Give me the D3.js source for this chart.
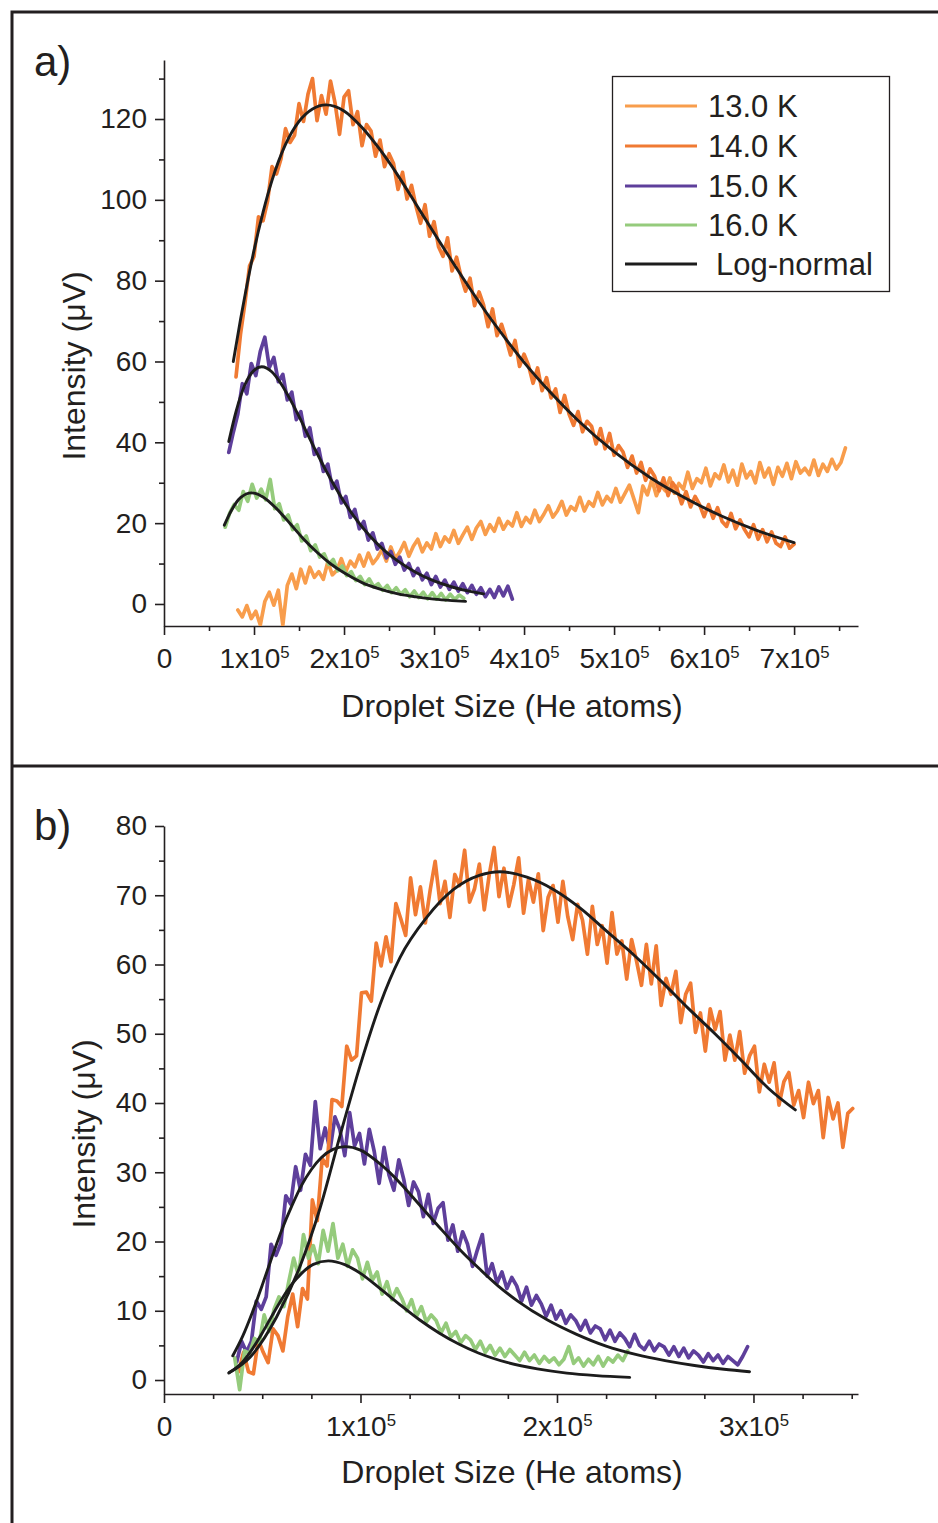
<!DOCTYPE html>
<html><head><meta charset="utf-8">
<script src="https://cdn.jsdelivr.net/npm/d3@7"></script>
<style>body{margin:0;background:#fff}svg{display:block;font-family:"Liberation Sans",Arial,sans-serif}</style>
</head><body><svg id="c" width="938" height="1523"></svg>
<script>
// ---------------- DATA ----------------
const legendLabels = ["13.0 K", "14.0 K", "15.0 K", "16.0 K", "Log-normal"];
const xLabel = "Droplet Size (He atoms)";
const yLabel = "Intensity (\u03BCV)";

// tick values (x in units of 10^5 He atoms)
const xTicksA = [0, 1, 2, 3, 4, 5, 6, 7];
const xMinorA = [0.5, 1.5, 2.5, 3.5, 4.5, 5.5, 6.5, 7.5];
const yTicksA = [0, 20, 40, 60, 80, 100, 120];
const yMinorA = [10, 30, 50, 70, 90, 110, 130];
const xTicksB = [0, 1, 2, 3];
const xMinorB = [0.25, 0.5, 0.75, 1.25, 1.5, 1.75, 2.25, 2.5, 2.75, 3.25, 3.5];
const yTicksB = [0, 10, 20, 30, 40, 50, 60, 70, 80];
const yMinorB = [5, 15, 25, 35, 45, 55, 65, 75];

// measured traces: uniform sampling grid (start, step) + intensities
const a13Start = 0.82, a13Step = 0.05;
const a13Y = [-1.5,-3.2,-0.4,-3.6,-1.8,-5.2,0.6,2.9,-0.3,3.4,
-5.2,4.6,7.4,3.8,8.6,5.2,9.1,6.6,8.0,6.1,
10.4,7.2,8.3,11.2,8.0,10.6,9.2,12.1,9.4,12.6,
10.0,11.4,13.4,10.6,14.1,11.2,12.9,15.2,11.8,14.3,
16.0,12.9,15.1,13.6,17.4,14.2,16.6,15.3,18.2,15.0,
17.1,19.0,16.0,18.8,20.4,17.2,19.6,18.0,21.2,18.5,
20.4,19.3,22.6,19.2,21.4,20.1,23.2,20.4,22.2,24.3,
21.5,23.0,25.4,22.0,24.1,23.2,26.4,23.0,25.3,24.2,
27.6,24.5,26.6,25.3,28.6,25.2,27.3,29.4,26.0,22.6,
29.2,27.0,30.8,26.8,29.4,28.0,31.2,27.4,29.8,28.4,
32.6,28.6,31.0,30.0,33.6,29.2,32.2,31.0,34.4,30.2,
33.1,29.4,34.6,31.2,32.8,30.0,35.0,31.4,33.6,29.6,
33.8,31.6,34.8,31.0,35.2,32.4,33.6,32.0,35.6,31.8,
34.6,32.8,35.8,33.4,35.0,38.6];

const a14Start = 0.80, a14Step = 0.05;
const a14Y = [56.2,66.8,74.6,83.6,86.0,95.8,94.8,99.6,108.2,106.4,
110.2,117.6,114.2,116.0,123.8,119.4,126.2,130.0,119.6,125.8,
121.2,129.4,124.0,116.2,125.4,127.0,118.6,121.8,113.4,118.6,
117.0,110.8,114.8,108.2,111.4,109.0,102.6,106.8,100.2,103.6,
98.4,94.2,98.8,91.0,94.6,88.4,86.0,90.6,82.4,85.8,
81.0,77.4,80.6,73.8,77.2,74.0,68.6,73.0,66.4,69.2,
65.6,61.6,65.2,58.8,61.8,59.0,54.6,58.4,52.8,56.0,
51.0,53.2,47.4,51.6,47.0,44.2,47.6,42.6,45.2,44.0,
39.6,43.4,38.4,42.2,36.8,39.2,37.6,33.8,36.6,32.4,
35.0,30.6,33.4,31.6,28.0,31.2,26.8,30.0,28.4,24.8,
27.8,24.0,26.6,24.6,21.6,24.6,21.2,23.8,20.4,19.2,
22.4,18.6,20.8,18.4,16.6,19.6,16.0,18.4,15.4,17.8,
15.0,14.2,16.6,13.8,14.8];

const a15Start = 0.72, a15Step = 0.05;
const a15Y = [37.5,42.5,47.0,54.5,52.0,59.5,56.5,62.5,66.0,58.5,
61.0,55.0,56.8,50.5,52.4,45.6,47.6,41.5,43.6,37.0,
38.4,32.8,34.6,28.6,30.4,25.0,26.6,21.4,23.4,18.6,
20.4,15.8,17.6,13.6,15.0,11.4,13.0,9.8,11.6,8.4,
10.0,7.0,8.8,6.0,7.6,4.8,6.8,4.2,5.9,3.6,
5.4,3.2,5.0,2.8,4.6,2.4,4.0,1.8,3.6,1.6,
4.2,2.0,4.4,1.2];

const a16Start = 0.68, a16Step = 0.05;
const a16Y = [19.0,22.5,24.6,23.2,27.8,25.4,29.6,26.2,28.4,25.8,
30.8,23.6,24.8,20.8,22.0,18.4,19.6,15.6,16.8,13.2,
14.6,11.6,12.4,9.8,11.0,8.2,9.4,7.0,8.0,5.8,
6.8,4.8,6.2,4.2,5.0,3.4,4.6,2.8,4.0,2.4,
3.5,1.8,3.2,1.6,2.9,1.3,2.8,1.2,2.6,1.0,
2.4,1.1,2.2,1.4];

// log-normal fits, panel a
const fit14aX = [0.77,0.85,0.9,1.0,1.1,1.2,1.35,1.5,1.65,1.8,2.0,2.2,2.4,2.6,2.8,3.0,3.2,3.4,3.6,3.8,4.0,4.3,4.6,5.0,5.4,5.8,6.2,6.6,7.0];
const fit14aY = [60.0,70.4,76.4,87.5,96.9,104.8,113.7,119.4,122.5,123.5,122.0,117.9,112.4,106.0,98.9,91.8,84.8,78.0,71.5,65.5,59.8,52.2,45.4,37.7,31.3,26.1,21.7,18.1,15.2];
const fit15aX = [0.72,0.8,0.9,1.0,1.085,1.2,1.3,1.4,1.5,1.6,1.7,1.8,1.9,2.0,2.15,2.3,2.45,2.6,2.8,3.0,3.2,3.4,3.55];
const fit15aY = [40.2,47.6,54.3,57.8,58.7,57.4,54.5,50.7,46.4,41.8,37.3,33.0,29.0,25.3,20.5,16.5,13.2,10.6,7.8,5.7,4.2,3.1,2.5];
const fit16aX = [0.67,0.75,0.85,0.974,1.1,1.25,1.4,1.55,1.7,1.85,2.0,2.2,2.4,2.6,2.8,3.0,3.2,3.35];
const fit16aY = [19.5,23.2,26.3,27.5,26.5,23.6,19.9,16.1,12.8,9.95,7.7,5.3,3.7,2.5,1.75,1.2,0.84,0.64];

// panel b traces
const bOrStart = 0.38, bOrStep = 0.025;
const bOrY = [1.2,4.0,1.2,0.9,5.8,4.0,2.5,7.4,6.4,4.2,
9.2,12.4,7.7,13.2,11.7,26.0,23.0,32.0,30.9,40.5,
40.3,39.5,48.2,46.2,46.8,55.9,56.0,54.7,63.1,59.8,
64.0,60.4,68.8,66.6,64.2,72.5,67.2,71.2,66.0,70.8,
74.9,68.8,72.0,66.8,73.0,71.4,76.5,69.0,70.9,74.5,
67.9,72.9,76.9,69.8,73.9,68.4,71.5,75.4,67.4,72.3,
69.0,73.1,64.9,69.7,71.4,66.1,72.0,66.9,63.6,68.7,
66.4,61.5,68.4,62.9,65.6,60.2,67.5,61.5,63.4,57.9,
63.6,60.5,57.0,62.9,57.2,62.7,54.1,58.0,55.7,59.0,
51.6,55.7,57.3,50.2,53.0,47.5,53.6,50.6,53.2,46.2,
49.8,46.2,50.3,44.3,46.8,48.2,41.6,45.6,43.0,45.8,
39.7,43.1,44.4,39.7,41.8,37.9,43.0,39.9,41.8,35.0,
40.8,37.7,40.0,33.6,38.5,39.2];

const bPuStart = 0.37, bPuStep = 0.025;
const bPuY = [2.6,5.6,4.0,5.6,11.4,10.2,12.0,19.6,18.0,19.8,
26.6,25.4,30.8,27.4,32.6,31.0,40.2,33.4,36.4,33.2,
38.0,36.2,32.4,38.6,33.8,35.6,31.2,36.2,33.0,28.4,
33.6,29.6,27.4,31.8,29.0,25.2,28.6,27.2,23.6,26.8,
22.6,24.8,25.6,20.2,22.4,18.6,21.4,19.6,16.4,18.8,
21.0,15.0,16.8,14.0,15.6,13.2,14.8,13.6,11.4,13.4,
10.8,12.2,11.0,9.2,10.8,8.8,10.0,8.2,9.4,8.6,
7.2,8.6,6.8,7.8,7.4,5.8,7.2,5.6,6.8,6.0,
4.8,6.6,5.0,4.4,5.6,4.2,5.2,4.8,3.6,4.8,
3.4,4.6,3.2,4.2,3.6,2.6,3.8,2.8,3.6,2.4,
3.4,2.8,2.2,3.4,4.8];

const bGrStart = 0.36, bGrStep = 0.025;
const bGrY = [3.2,-1.4,4.2,3.8,6.0,5.4,9.4,7.0,10.2,12.0,
10.6,14.2,17.6,15.0,21.0,17.6,19.4,16.8,21.6,18.6,
22.6,17.6,19.6,16.4,18.8,17.6,14.6,17.0,14.4,15.6,
12.4,14.2,11.6,13.2,11.8,10.0,11.6,9.2,10.6,8.4,
9.4,8.6,6.8,8.2,6.2,7.0,5.4,6.4,5.8,4.4,
5.6,4.0,5.0,3.6,4.6,3.4,4.4,3.6,2.8,4.0,
2.8,3.6,2.4,3.4,2.6,3.2,2.2,3.0,4.8,2.4,
3.2,2.0,3.0,2.2,3.4,2.0,3.2,2.6,3.6,2.8,
4.2];

// log-normal fits, panel b
const fitOrbX = [0.332,0.438,0.573,0.692,0.794,0.896,0.997,1.099,1.201,1.337,1.472,1.608,1.71,1.847,1.984,2.12,2.257,2.394,2.53,2.667,2.804,2.94,3.077,3.213];
const fitOrbY = [1.08,3.3,9.1,16.4,24.8,35.3,45.3,54.2,61.0,66.8,70.8,72.9,73.4,72.6,70.8,68.1,64.7,61.3,57.6,53.7,50.0,46.1,42.1,39.0];
const fitPubX = [0.35,0.40,0.45,0.50,0.55,0.60,0.65,0.70,0.75,0.80,0.86,0.921,1.0,1.1,1.2,1.3,1.4,1.5,1.6,1.7,1.8,1.95,2.1,2.25,2.4,2.55,2.7,2.85,2.98];
const fitPubY = [3.5,6.3,9.8,13.7,17.8,21.7,25.1,28.1,30.4,32.1,33.3,33.7,33.2,31.2,28.5,25.3,22.1,19.0,16.2,13.6,11.4,8.7,6.6,4.9,3.7,2.8,2.1,1.56,1.2];
const fitGrbX = [0.33,0.40,0.45,0.50,0.55,0.60,0.65,0.70,0.76,0.836,0.92,1.0,1.1,1.2,1.3,1.4,1.5,1.6,1.75,1.9,2.05,2.2,2.37];
const fitGrbY = [1.0,2.6,4.5,6.8,9.3,11.7,13.8,15.4,16.7,17.2,16.65,15.4,13.2,10.9,8.7,6.8,5.2,3.9,2.5,1.6,1.0,0.64,0.38];

// ---------------- STYLE ----------------
const ink = "#231f20";
const col13 = "#F89D4C", col14 = "#F07A33", col15 = "#5E3F9B", col16 = "#95CB7C", colFit = "#1c1c1c";
const FONT = '"Liberation Sans", Arial, sans-serif';

const grid = (x0, dx, ys) => ys.map((y, i) => ({x: +(x0 + i * dx).toFixed(4), y}));
const zip = (xs, ys) => xs.map((x, i) => ({x, y: ys[i]}));

const svg = d3.select("#c");

// frame
svg.append("path").attr("d", "M12,1523V12H938").attr("fill", "none").attr("stroke", ink).attr("stroke-width", 3);
svg.append("line").attr("x1", 12).attr("x2", 938).attr("y1", 766).attr("y2", 766).attr("stroke", ink).attr("stroke-width", 3);

function drawPanel(o) {
  const {x, y, id} = o;
  const [yBot, yTop] = y.range();
  const [xL, xR] = x.range();
  const g = svg.append("g");

  const gx = g.append("g").attr("transform", `translate(0,${yBot})`)
    .call(d3.axisBottom(x).tickValues(o.xMin).tickSize(5).tickSizeOuter(0).tickFormat(""));
  gx.select(".domain").remove();
  const gx2 = g.append("g").attr("transform", `translate(0,${yBot})`)
    .call(d3.axisBottom(x).tickValues(o.xMaj).tickSize(9).tickSizeOuter(0).tickPadding(13));
  gx2.selectAll(".tick text").each(function(d) {
    const t = d3.select(this);
    t.text(null);
    if (d === 0) { t.text("0"); return; }
    t.append("tspan").text(d + "x10");
    t.append("tspan").attr("dy", "-0.6em").attr("font-size", "0.6em").text("5");
  });
  const gy = g.append("g").attr("transform", `translate(${xL},0)`)
    .call(d3.axisLeft(y).tickValues(o.yMin).tickSize(5).tickSizeOuter(0).tickFormat(""));
  gy.select(".domain").remove();
  const gy2 = g.append("g").attr("transform", `translate(${xL},0)`)
    .call(d3.axisLeft(y).tickValues(o.yMaj).tickSize(9).tickSizeOuter(0).tickPadding(8));
  [gx, gx2, gy, gy2].forEach(a => {
    a.attr("font-size", 28).attr("font-family", FONT).attr("color", ink);
    a.selectAll("line,path").attr("stroke-width", 1.6);
  });

  svg.append("clipPath").attr("id", "clip" + id).append("rect")
    .attr("x", xL).attr("y", yTop).attr("width", xR - xL).attr("height", yBot - yTop);
  const plot = g.append("g").attr("clip-path", `url(#clip${id})`);
  const line = d3.line().x(d => x(d.x)).y(d => y(d.y));
  const smooth = d3.line().x(d => x(d.x)).y(d => y(d.y)).curve(d3.curveMonotoneX);
  o.traces.forEach(t => plot.append("path").datum(t.data).attr("d", line)
    .attr("fill", "none").attr("stroke", t.color).attr("stroke-width", 3.7)
    .attr("stroke-linejoin", "round").attr("stroke-linecap", "round"));
  o.fits.forEach(f => plot.append("path").datum(f).attr("d", smooth)
    .attr("fill", "none").attr("stroke", colFit).attr("stroke-width", 2.9).attr("stroke-linecap", "round"));

  g.append("text").attr("x", 512).attr("y", o.xTitleY).attr("text-anchor", "middle")
    .attr("font-size", 32).attr("font-family", FONT).attr("fill", ink).text(xLabel);
  g.append("text").attr("transform", `translate(${o.yTitleX},${o.yTitleY}) rotate(-90)`)
    .attr("text-anchor", "middle").attr("font-size", 32).attr("font-family", FONT).attr("fill", ink).text(yLabel);
  g.append("text").attr("x", 34).attr("y", o.tagY).attr("font-size", 42).attr("font-family", FONT)
    .attr("fill", ink).text(o.tag);
}

const xA = d3.scaleLinear().domain([0, 7.71]).range([164, 858]);
const yA = d3.scaleLinear().domain([-5.45, 134.6]).range([626, 60]);
const xB = d3.scaleLinear().domain([0, 3.532]).range([164, 858]);
const yB = d3.scaleLinear().domain([-2.02, 80]).range([1394, 826]);

drawPanel({
  id: "a", x: xA, y: yA, xMaj: xTicksA, xMin: xMinorA, yMaj: yTicksA, yMin: yMinorA,
  traces: [
    {color: col13, data: grid(a13Start, a13Step, a13Y)},
    {color: col14, data: grid(a14Start, a14Step, a14Y)},
    {color: col15, data: grid(a15Start, a15Step, a15Y)},
    {color: col16, data: grid(a16Start, a16Step, a16Y)}
  ],
  fits: [zip(fit14aX, fit14aY), zip(fit15aX, fit15aY), zip(fit16aX, fit16aY)],
  xTitleY: 717, yTitleX: 85, yTitleY: 366, tag: "a)", tagY: 76
});

drawPanel({
  id: "b", x: xB, y: yB, xMaj: xTicksB, xMin: xMinorB, yMaj: yTicksB, yMin: yMinorB,
  traces: [
    {color: col15, data: grid(bPuStart, bPuStep, bPuY)},
    {color: col14, data: grid(bOrStart, bOrStep, bOrY)},
    {color: col16, data: grid(bGrStart, bGrStep, bGrY)}
  ],
  fits: [zip(fitOrbX, fitOrbY), zip(fitPubX, fitPubY), zip(fitGrbX, fitGrbY)],
  xTitleY: 1483, yTitleX: 95, yTitleY: 1134, tag: "b)", tagY: 840
});

// legend (panel a)
const legColors = [col13, col14, col15, col16, colFit];
const leg = svg.append("g");
leg.append("rect").attr("x", 612.5).attr("y", 76.5).attr("width", 277).attr("height", 215)
  .attr("fill", "#fff").attr("stroke", ink).attr("stroke-width", 1.3);
const legY = [106, 146, 186, 225, 264];
legendLabels.forEach((lab, i) => {
  leg.append("line").attr("x1", 625).attr("x2", 697).attr("y1", legY[i]).attr("y2", legY[i])
    .attr("stroke", legColors[i]).attr("stroke-width", 2.8);
  leg.append("text").attr("x", i === 4 ? 716 : 708).attr("y", legY[i] + 11)
    .attr("font-size", 31).attr("font-family", FONT).attr("fill", ink).text(lab);
});
</script></body></html>
